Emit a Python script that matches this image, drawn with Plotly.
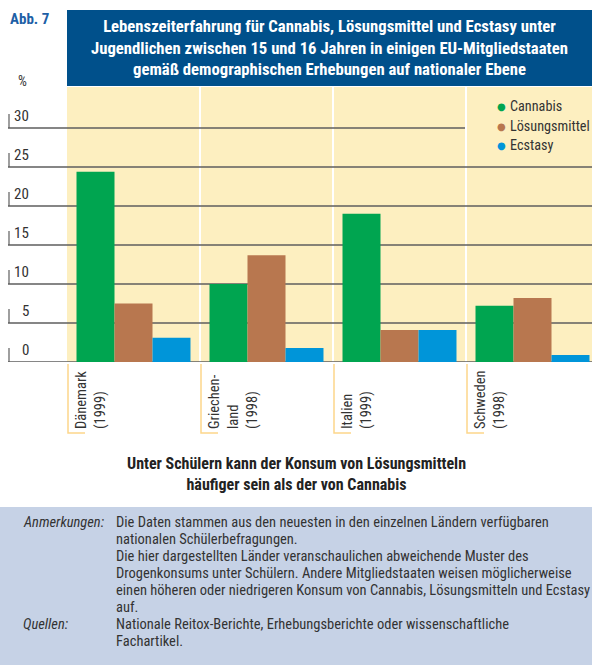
import plotly.graph_objects as go

W, H = 592, 665
NARROW = "Liberation Sans Narrow, Arial Narrow, Roboto Condensed, sans-serif"


def px(x):
    return x / W


def py(y):
    return 1 - y / H


# Daten
laender = ["Dänemark", "Griechenland", "Italien", "Schweden"]
laender_label = ["Dänemark<br>(1999)", "Griechen-<br>land<br>(1998)", "Italien<br>(1999)", "Schweden<br>(1998)"]
cannabis = [24.4, 10.0, 19.0, 7.2]
loesungsmittel = [7.5, 13.7, 4.1, 8.2]
ecstasy = [3.1, 1.8, 4.1, 0.9]
y_ticks = [0, 5, 10, 15, 20, 25, 30]

serien = ["Cannabis", "Lösungsmittel", "Ecstasy"]
farben = ["#00A550", "#B8774F", "#0095D9"]

anm_zeilen = [
    ("Anmerkungen:", "Die Daten stammen aus den neuesten in den einzelnen Ländern verfügbaren"),
    ("", "nationalen Schülerbefragungen."),
    ("", "Die hier dargestellten Länder veranschaulichen abweichende Muster des"),
    ("", "Drogenkonsums unter Schülern. Andere Mitgliedstaaten weisen möglicherweise"),
    ("", "einen höheren oder niedrigeren Konsum von Cannabis, Lösungsmitteln und Ecstasy"),
    ("", "auf."),
    ("Quellen:", "Nationale Reitox-Berichte, Erhebungsberichte oder wissenschaftliche"),
    ("", "Fachartikel."),
]

# Pixel-Geometrie des Diagrammbereichs
plot_left, plot_right = 67, 592
plot_top, plot_bottom = 87, 362
px_per_unit = 7.8
group_px = 133
y_max = (plot_bottom - plot_top) / px_per_unit
x_max = -0.5 + (plot_right - plot_left) / group_px

fig = go.Figure()
for name, werte, farbe in zip(serien, [cannabis, loesungsmittel, ecstasy], farben):
    fig.add_trace(go.Bar(x=laender, y=werte, name=name, marker_color=farbe,
                         marker_line_width=0, showlegend=False))

shapes = []
# gelber Hintergrund
shapes.append(dict(type="rect", xref="paper", yref="paper", x0=px(plot_left), x1=1,
                   y0=py(plot_bottom), y1=py(plot_top), fillcolor="#FDEFC0",
                   line_width=0, layer="below"))
# weiße Trennlinien zwischen den Ländern
for i in range(1, len(laender)):
    shapes.append(dict(type="line", xref="x", yref="paper", x0=i - 0.5, x1=i - 0.5,
                       y0=py(plot_bottom), y1=py(plot_top), line=dict(color="white", width=2),
                       layer="below"))
# Gitterlinien + Skalenstriche
for t in y_ticks:
    x_end = px(465) if t == 30 else 1
    shapes.append(dict(type="line", xref="paper", yref="y", x0=px(8), x1=x_end, y0=t, y1=t,
                       line=dict(color="#5E5E5E", width=1.5), layer="below"))
    shapes.append(dict(type="line", xref="paper", yref="y", x0=px(9), x1=px(9),
                       y0=t, y1=t + 14 / px_per_unit,
                       line=dict(color="#5E5E5E", width=1.2), layer="below"))
# Klammern an den Länderbeschriftungen
for i in range(len(laender)):
    shapes.append(dict(type="path", xref="paper", yref="paper",
                       path=f"M {px(plot_left + i * group_px + 1)} {py(364)} "
                            f"L {px(plot_left + i * group_px + 1)} {py(433)} "
                            f"L {px(plot_left + i * group_px + 18)} {py(433)}",
                       line=dict(color="#FDD68A", width=1.5)))
# Titelbalken
shapes.append(dict(type="rect", xref="paper", yref="paper", x0=px(67), x1=1,
                   y0=py(86), y1=py(10), fillcolor="#00508B", line_width=0))
# Anmerkungskasten
shapes.append(dict(type="rect", xref="paper", yref="paper", x0=0, x1=1,
                   y0=0, y1=py(507), fillcolor="#C6D2E6", line_width=0))

ann = []
ann.append(dict(x=px(8), y=py(8), xref="paper", yref="paper", xanchor="left", yanchor="top",
                text="<b>Abb. 7</b>", showarrow=False,
                font=dict(family=NARROW, size=15, color="#1D5FA6")))
ann.append(dict(x=px(329.5), y=py(48), xref="paper", yref="paper", xanchor="center", yanchor="middle",
                text="<b>Lebenszeiterfahrung für Cannabis, Lösungsmittel und Ecstasy unter<br>"
                     "Jugendlichen zwischen 15 und 16 Jahren in einigen EU-Mitgliedstaaten<br>"
                     "gemäß demographischen Erhebungen auf nationaler Ebene</b>",
                showarrow=False, align="center",
                font=dict(family=NARROW, size=16.7, color="white")))
ann.append(dict(x=px(16), y=py(81), xref="paper", yref="paper", xanchor="left", yanchor="middle",
                text="%", showarrow=False, font=dict(family=NARROW, size=14, color="#333333")))
for t in y_ticks:
    ann.append(dict(x=px(31), y=py(plot_bottom - t * px_per_unit - 1), xref="paper", yref="paper",
                    xanchor="right", yanchor="bottom", text=str(t), showarrow=False,
                    font=dict(family=NARROW, size=15, color="#333333")))
for i, lab in enumerate(laender_label):
    ann.append(dict(x=px(plot_left + i * group_px + 4), y=py(431), xref="paper", yref="paper",
                    xanchor="left", yanchor="bottom", text=lab, textangle=-90, align="left",
                    showarrow=False, font=dict(family=NARROW, size=14.5, color="#333333")))
# Legende
for j, (name, farbe) in enumerate(zip(serien, farben)):
    yy = [106, 126, 145][j]
    ann.append(dict(x=px(495), y=py(yy), xref="paper", yref="paper", xanchor="left", yanchor="middle",
                    text="●", showarrow=False,
                    font=dict(family="DejaVu Sans", size=10, color=farbe)))
    ann.append(dict(x=px(508), y=py(yy), xref="paper", yref="paper", xanchor="left", yanchor="middle",
                    text=name, showarrow=False,
                    font=dict(family=NARROW, size=14.2, color="#333333")))
ann.append(dict(x=px(296), y=py(474), xref="paper", yref="paper", xanchor="center", yanchor="middle",
                text="<b>Unter Schülern kann der Konsum von Lösungsmitteln<br>"
                     "häufiger sein als der von Cannabis</b>",
                showarrow=False, align="center",
                font=dict(family=NARROW, size=16, color="#222222")))
for k, (label, zeile) in enumerate(anm_zeilen):
    yy = 522 + 17 * k
    if label:
        ann.append(dict(x=px(21), y=py(yy), xref="paper", yref="paper", xanchor="left",
                        yanchor="middle", text=f"<i>{label}</i>", showarrow=False,
                        font=dict(family=NARROW, size=14.5, color="#333333")))
    ann.append(dict(x=px(114), y=py(yy), xref="paper", yref="paper", xanchor="left",
                    yanchor="middle", text=zeile, showarrow=False,
                    font=dict(family=NARROW, size=14.5, color="#333333")))

fig.update_layout(
    width=W, height=H,
    margin=dict(l=0, r=0, t=0, b=0),
    paper_bgcolor="white",
    plot_bgcolor="rgba(0,0,0,0)",
    barmode="group",
    bargap=0.143,
    bargroupgap=0,
    shapes=shapes,
    annotations=ann,
    xaxis=dict(domain=[px(plot_left), 1], range=[-0.5, x_max], showticklabels=False,
               showgrid=False, zeroline=False, fixedrange=True),
    yaxis=dict(domain=[py(plot_bottom), py(plot_top)], range=[0, y_max], showticklabels=False,
               showgrid=False, zeroline=False, fixedrange=True),
    showlegend=False,
)

fig.write_html("out.html", config={"displayModeBar": False},
               post_script="document.body.style.margin='0';document.body.style.overflow='hidden';")
